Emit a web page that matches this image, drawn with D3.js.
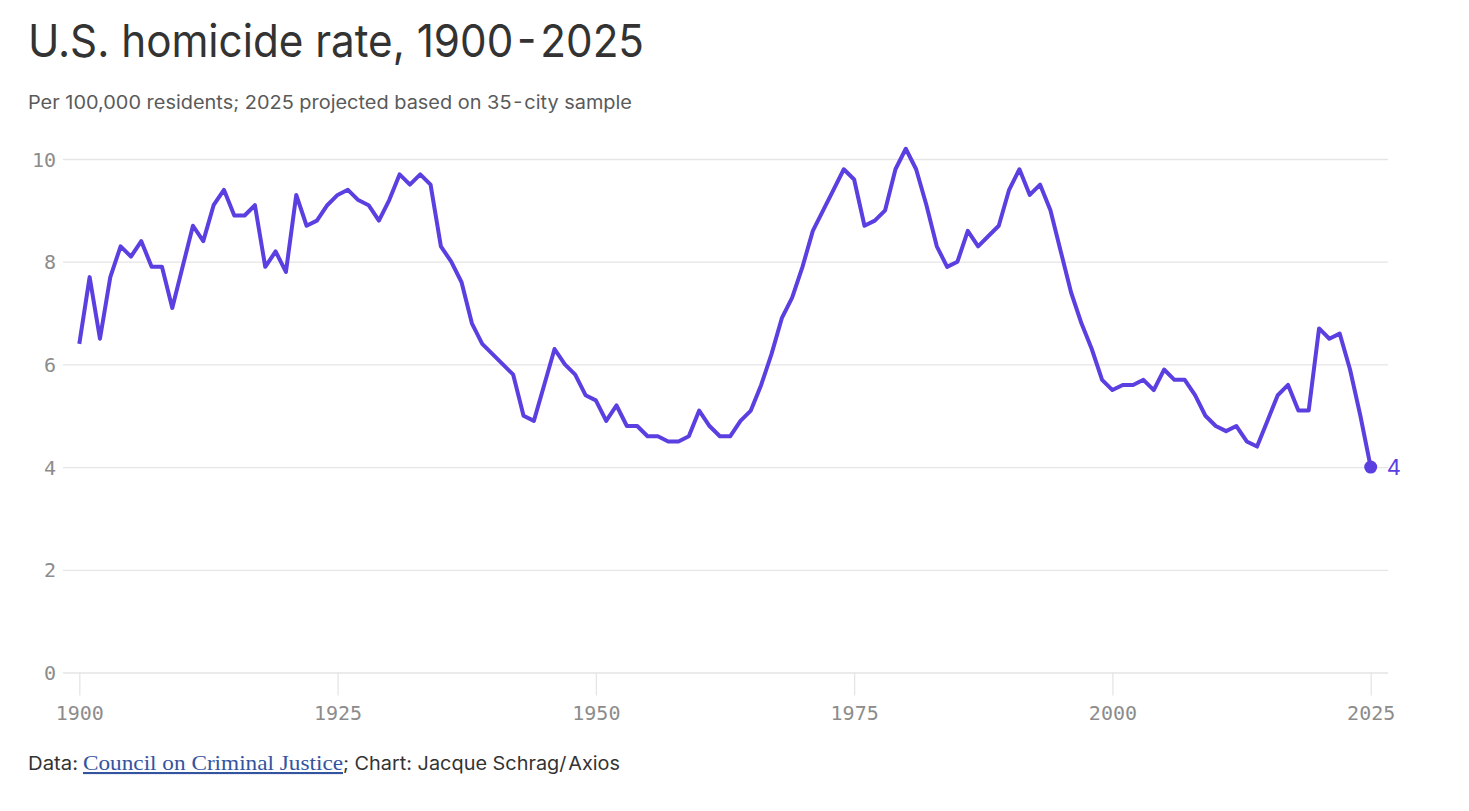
<!DOCTYPE html>
<html>
<head>
<meta charset="utf-8">
<script src="https://cdn.jsdelivr.net/npm/d3@7"></script>
<style>
  html, body { margin: 0; padding: 0; background: #fff; }
  svg { display: block; }
  .grid line { stroke: #e5e5e5; stroke-width: 1.3; }
  .grid .domain { display: none; }
  .tick text { fill: #8c8c8c; font-family: "DejaVu Sans Mono", monospace; font-size: 20px; }
</style>
</head>
<body>
<svg id="chart" width="1469" height="811"></svg>
<script>
// Homicide rate per 100,000 (1900 - 2025)
const firstYear = 1900;
const rates = [
  6.4, 7.7, 6.5, 7.7, 8.3, 8.1, 8.4, 7.9, 7.9, 7.1,   // 1900s
  7.9, 8.7, 8.4, 9.1, 9.4, 8.9, 8.9, 9.1, 7.9, 8.2,   // 1910s
  7.8, 9.3, 8.7, 8.8, 9.1, 9.3, 9.4, 9.2, 9.1, 8.8,   // 1920s
  9.2, 9.7, 9.5, 9.7, 9.5, 8.3, 8.0, 7.6, 6.8, 6.4,   // 1930s
  6.2, 6.0, 5.8, 5.0, 4.9, 5.6, 6.3, 6.0, 5.8, 5.4,   // 1940s
  5.3, 4.9, 5.2, 4.8, 4.8, 4.6, 4.6, 4.5, 4.5, 4.6,   // 1950s
  5.1, 4.8, 4.6, 4.6, 4.9, 5.1, 5.6, 6.2, 6.9, 7.3,   // 1960s
  7.9, 8.6, 9.0, 9.4, 9.8, 9.6, 8.7, 8.8, 9.0, 9.8,   // 1970s
  10.2, 9.8, 9.1, 8.3, 7.9, 8.0, 8.6, 8.3, 8.5, 8.7,  // 1980s
  9.4, 9.8, 9.3, 9.5, 9.0, 8.2, 7.4, 6.8, 6.3, 5.7,   // 1990s
  5.5, 5.6, 5.6, 5.7, 5.5, 5.9, 5.7, 5.7, 5.4, 5.0,   // 2000s
  4.8, 4.7, 4.8, 4.5, 4.4, 4.9, 5.4, 5.6, 5.1, 5.1,   // 2010s
  6.7, 6.5, 6.6, 5.9, 5.0, 4.0                        // 2020s
];
const years = rates.map((_, i) => firstYear + i);
const xTicks = [1900, 1925, 1950, 1975, 2000, 2025];
const yTicks = [0, 2, 4, 6, 8, 10];

const title = "U.S. homicide rate, 1900\u200A-\u200A2025";
const subtitle = "Per 100,000 residents; 2025 projected based on 35\u200A-\u200Acity sample";

const purple = "#5b3fe0";

const svg = d3.select('#chart');

const x = d3.scaleLinear().domain([1900, 2025]).range([79.3, 1370.7]);
const y = d3.scaleLinear().domain([0, 10]).range([672.5, 159]);
const gridLeft = 63, gridRight = 1388;

// titles
svg.append('text')
  .attr('x', 28).attr('y', 57)
  .attr('fill', '#333')
  .attr('font-family', 'Inter, Roboto, sans-serif')
  .attr('font-size', 45)
  .attr('textLength', 616).attr('lengthAdjust', 'spacingAndGlyphs')
  .text(title);

svg.append('text')
  .attr('x', 28).attr('y', 109)
  .attr('fill', '#5a5a5a')
  .attr('font-family', 'Inter, Roboto, sans-serif')
  .attr('font-size', 18.5)
  .attr('textLength', 604).attr('lengthAdjust', 'spacingAndGlyphs')
  .text(subtitle);

// y grid
const yAxis = svg.append('g')
  .attr('class', 'grid')
  .attr('transform', `translate(${gridLeft},0)`)
  .call(d3.axisLeft(y).tickValues(yTicks).tickSize(-(gridRight - gridLeft)).tickPadding(7));
yAxis.selectAll('.tick text').attr('dy', '0.35em');

// x ticks
svg.append('g')
  .attr('class', 'grid')
  .attr('transform', `translate(0,${y(0)})`)
  .call(d3.axisBottom(x).tickValues(xTicks).tickFormat(d3.format('d')).tickSize(23).tickPadding(10));

// line
const line = d3.line()
  .x((d, i) => x(years[i]))
  .y(d => y(d));

svg.append('path')
  .datum(rates)
  .attr('fill', 'none')
  .attr('stroke', purple)
  .attr('stroke-width', 4)
  .attr('stroke-linejoin', 'round')
  .attr('d', line);

// end point
const lastYear = years[years.length - 1];
const lastVal = rates[rates.length - 1];
svg.append('circle')
  .attr('cx', x(lastYear)).attr('cy', y(lastVal))
  .attr('r', 6.5)
  .attr('fill', purple);

svg.append('text')
  .attr('x', x(lastYear) + 16).attr('y', y(lastVal))
  .attr('dy', '0.36em')
  .attr('fill', purple)
  .attr('font-family', 'Inter, Roboto, sans-serif')
  .attr('font-size', 22)
  .text(d3.format('d')(lastVal));

// footer
const foot = svg.append('g').attr('font-size', 18.5);
foot.append('text')
  .attr('x', 28).attr('y', 770)
  .attr('fill', '#333')
  .attr('font-family', 'Inter, Roboto, sans-serif')
  .attr('textLength', 50).attr('lengthAdjust', 'spacingAndGlyphs')
  .text('Data:');
foot.append('text')
  .attr('x', 83).attr('y', 770)
  .attr('fill', '#33549f')
  .attr('font-family', '"Liberation Serif", "DejaVu Serif", serif')
  .attr('font-size', 21)
  .attr('text-decoration', 'underline')
  .attr('textLength', 260).attr('lengthAdjust', 'spacingAndGlyphs')
  .text('Council on Criminal Justice');
foot.append('text')
  .attr('x', 343).attr('y', 770)
  .attr('fill', '#333')
  .attr('font-family', 'Inter, Roboto, sans-serif')
  .attr('textLength', 277).attr('lengthAdjust', 'spacingAndGlyphs')
  .text('; Chart: Jacque Schrag/\u200AAxios');
</script>
</body>
</html>
